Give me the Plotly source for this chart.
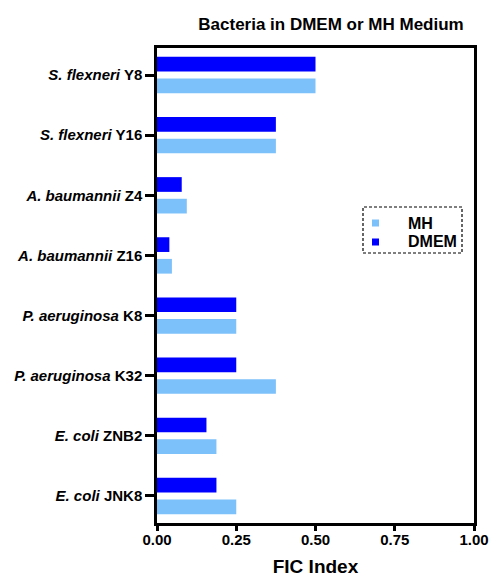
import plotly.graph_objects as go

# Strains, listed bottom to top
strains = [
    "<i>E. coli</i> JNK8",
    "<i>E. coli</i> ZNB2",
    "<i>P. aeruginosa</i> K32",
    "<i>P. aeruginosa</i> K8",
    "<i>A. baumannii</i> Z16",
    "<i>A. baumannii</i> Z4",
    "<i>S. flexneri</i> Y16",
    "<i>S. flexneri</i> Y8",
]
fic_mh = [0.25, 0.1875, 0.375, 0.25, 0.047, 0.094, 0.375, 0.5]
fic_dmem = [0.1875, 0.156, 0.25, 0.25, 0.039, 0.078, 0.375, 0.5]
x_ticks = [0, 0.25, 0.5, 0.75, 1.0]

MH_COLOR = "#7CC1FA"
DMEM_COLOR = "#0000FF"
FONT = "Liberation Sans, Arial, sans-serif"

# Plot-area geometry in pixels
W, H = 489, 577
L, R, T, B = 157, 474, 48, 523

fig = go.Figure()
fig.add_trace(go.Bar(
    y=strains, x=fic_mh, orientation="h", name="MH",
    marker=dict(color=MH_COLOR, line=dict(width=0)),
))
fig.add_trace(go.Bar(
    y=strains, x=fic_dmem, orientation="h", name="DMEM",
    marker=dict(color=DMEM_COLOR, line=dict(width=0)),
))

fig.update_layout(
    width=W, height=H,
    margin=dict(l=L, r=W - R, t=T, b=H - B, autoexpand=False),
    paper_bgcolor="white", plot_bgcolor="white",
    barmode="group", bargap=0.28, bargroupgap=0.32,
    font=dict(family=FONT, color="black"),
    title=dict(
        text="<b>Bacteria in DMEM or MH Medium</b>",
        x=331 / W, xanchor="center",
        y=1 - 24 / H, yanchor="middle",
        font=dict(size=17, family=FONT, color="black"),
    ),
    showlegend=False,
)

fig.update_xaxes(
    range=[0, 1], tickvals=x_ticks, tickformat=".2f",
    showgrid=False, zeroline=False,
    showline=True, linecolor="black", linewidth=2.5, mirror=True,
    ticks="outside", ticklen=5, tickwidth=2.5, tickcolor="black",
    ticklabelstandoff=-4,
    tickfont=dict(size=15, family=FONT, color="black", weight="bold"),
    title=dict(text="<b>FIC Index</b>", font=dict(size=19, family=FONT, color="black"), standoff=16),
)
fig.update_yaxes(
    range=[-0.45, 7.45],
    showgrid=False, zeroline=False,
    showline=True, linecolor="black", linewidth=2.5, mirror=True,
    ticks="outside", ticklen=9, tickwidth=2.5, tickcolor="black",
    tickfont=dict(size=15, family=FONT, color="black", weight="bold"),
)

# Legend: dashed frame, colour swatches and labels
def px_x(v):
    return (v - L) / (R - L)

def px_y(v):
    return (B - v) / (B - T)

fig.add_shape(
    type="rect", xref="paper", yref="paper",
    x0=px_x(363), x1=px_x(462), y0=px_y(253), y1=px_y(207),
    line=dict(color="black", width=1.2, dash="3px,2px"),
    fillcolor="rgba(0,0,0,0)",
)
for name, color, cy in [("MH", MH_COLOR, 223), ("DMEM", DMEM_COLOR, 242)]:
    fig.add_shape(
        type="rect", xref="paper", yref="paper",
        x0=px_x(372), x1=px_x(379), y0=px_y(cy + 3.5), y1=px_y(cy - 3.5),
        line=dict(width=0), fillcolor=color,
    )
    fig.add_annotation(
        xref="paper", yref="paper", x=px_x(406), y=px_y(cy),
        xanchor="left", yanchor="middle", showarrow=False,
        text=f"<b>{name}</b>", font=dict(size=16, family=FONT, color="black"),
    )

fig.write_html("out.html")
